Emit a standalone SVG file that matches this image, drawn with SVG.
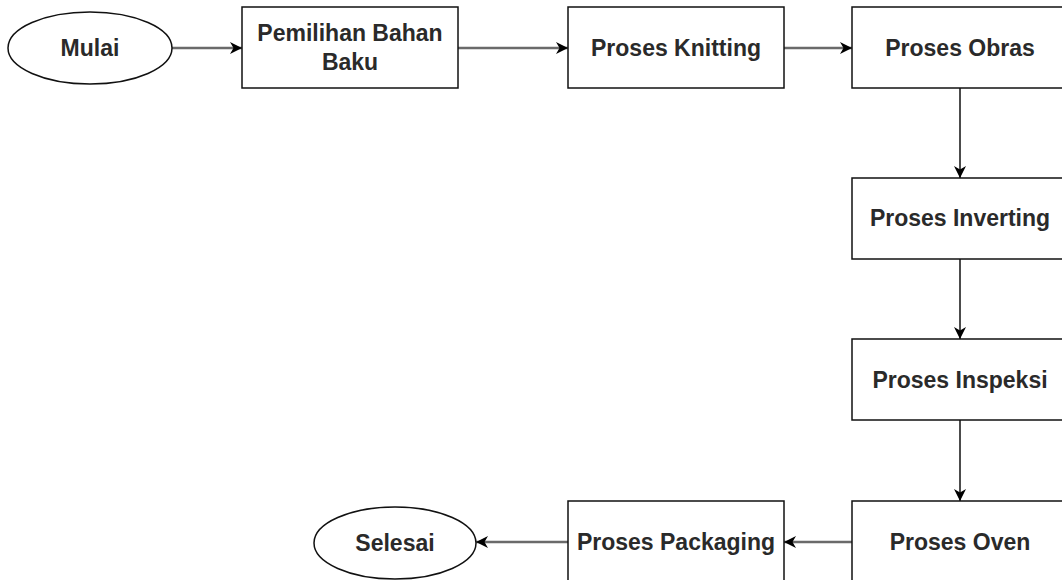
<svg xmlns="http://www.w3.org/2000/svg" width="1062" height="580" viewBox="0 0 1062 580">
  <style>
    .box { fill: #ffffff; stroke: #111111; stroke-width: 1.5; }
    .lbl { font-family: "Liberation Sans", Arial, sans-serif; font-size: 23px; font-weight: bold; fill: #2a2a2a; text-anchor: middle; }
    .h { stroke: #6a6a6a; stroke-width: 2.5; fill: none; }
    .v { stroke: #111111; stroke-width: 1.5; fill: none; }
  </style>
  <defs>
    <marker id="arr" markerWidth="14" markerHeight="14" refX="12" refY="6" orient="auto" markerUnits="userSpaceOnUse">
      <path d="M0,0 L12,6 L0,12 L3.5,6 Z" fill="#000000"/>
    </marker>
  </defs>
  <rect width="1062" height="580" fill="#ffffff"/>

  <g id="connectors">
    <line class="h" x1="172" y1="48" x2="242" y2="48" marker-end="url(#arr)"/>
    <line class="h" x1="458" y1="48" x2="568" y2="48" marker-end="url(#arr)"/>
    <line class="h" x1="784" y1="48" x2="852" y2="48" marker-end="url(#arr)"/>
    <line class="v" x1="960" y1="88" x2="960" y2="178" marker-end="url(#arr)"/>
    <line class="v" x1="960" y1="259" x2="960" y2="339" marker-end="url(#arr)"/>
    <line class="v" x1="960" y1="420" x2="960" y2="501" marker-end="url(#arr)"/>
    <line class="h" x1="852" y1="542" x2="784" y2="542" marker-end="url(#arr)"/>
    <line class="h" x1="568" y1="542" x2="476" y2="542" marker-end="url(#arr)"/>
  </g>

  <g id="mulai">
    <ellipse class="box" cx="90" cy="48" rx="82" ry="36"/>
    <text class="lbl" x="90" y="56">Mulai</text>
  </g>
  <g id="pemilihan">
    <rect class="box" x="242" y="7" width="216" height="81"/>
    <text class="lbl" x="350" y="41">Pemilihan Bahan</text>
    <text class="lbl" x="350" y="70">Baku</text>
  </g>
  <g id="knitting">
    <rect class="box" x="568" y="7" width="216" height="81"/>
    <text class="lbl" x="676" y="56">Proses Knitting</text>
  </g>
  <g id="obras">
    <rect class="box" x="852" y="7" width="216" height="81"/>
    <text class="lbl" x="960" y="56">Proses Obras</text>
  </g>
  <g id="inverting">
    <rect class="box" x="852" y="178" width="216" height="81"/>
    <text class="lbl" x="960" y="226">Proses Inverting</text>
  </g>
  <g id="inspeksi">
    <rect class="box" x="852" y="339" width="216" height="81"/>
    <text class="lbl" x="960" y="388">Proses Inspeksi</text>
  </g>
  <g id="oven">
    <rect class="box" x="852" y="501" width="216" height="81"/>
    <text class="lbl" x="960" y="550">Proses Oven</text>
  </g>
  <g id="packaging">
    <rect class="box" x="568" y="501" width="216" height="81"/>
    <text class="lbl" x="676" y="550">Proses Packaging</text>
  </g>
  <g id="selesai">
    <ellipse class="box" cx="395" cy="543" rx="81" ry="36"/>
    <text class="lbl" x="395" y="551">Selesai</text>
  </g>
</svg>
